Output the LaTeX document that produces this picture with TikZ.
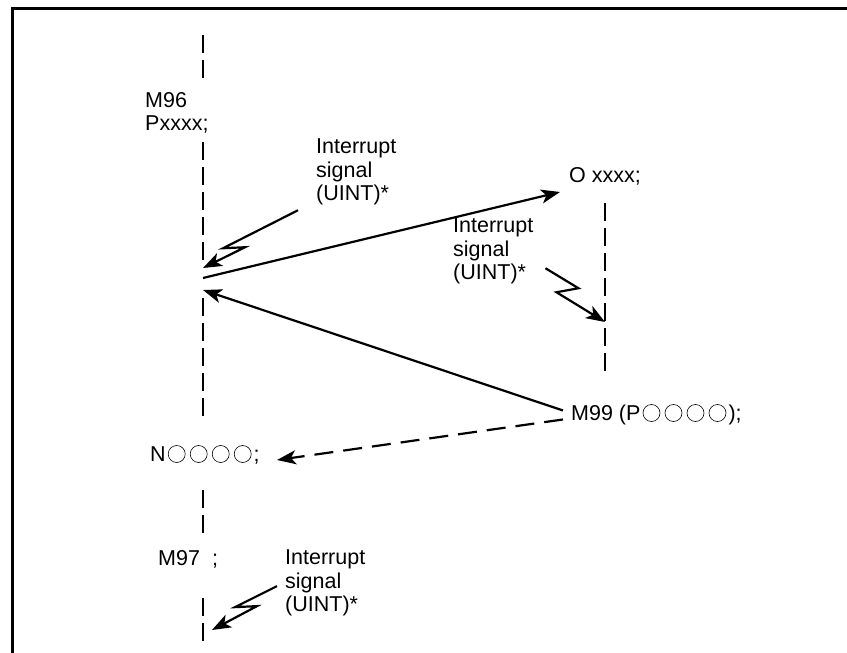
\documentclass[tikz,border=0pt]{standalone}
\usepackage{fontspec}
\setmainfont{Liberation Sans}
\usetikzlibrary{arrows.meta}
\newcommand\oc{\tikz[baseline=0pt,x=1pt,y=1pt]{\path (0,-1) rectangle (22,15); \draw[line width=0.6pt] (11,7.3) circle[radius=8.5];}}
\begin{document}
\begin{tikzpicture}[x=1pt,y=-1pt,
  lbl/.style={anchor=north west,inner sep=0pt,align=left,font=\fontsize{21.5}{23.3}\selectfont},
  dline/.style={line width=2.2pt,dash pattern=on 18pt off 7pt},
  conn/.style={line width=2.2pt,-{Stealth[length=19pt,width=14pt,inset=5pt]}},
  dconn/.style={conn,dash pattern=on 19pt off 10pt}]
\useasboundingbox (0,0) rectangle (847,653);
\draw[line width=2.4pt] (12.5,653) -- (12.5,8.5) -- (847,8.5);

% text nodes
\node[lbl] (m96) at (145,92) {M96\\Pxxxx;};
\node[lbl] (int1) at (316,139) {Interrupt\\signal\\(UINT)*};
\node[lbl] (oxx) at (569,167) {O xxxx;};
\node[lbl] (int2) at (453,218) {Interrupt\\signal\\(UINT)*};
\node[lbl] (m99) at (571,404) {M99 (P\oc\oc\oc\oc);};
\node[lbl] (nn) at (150,445) {N\oc\oc\oc\oc;};
\node[lbl] (m97) at (158,550) {M97\hspace{12pt};};
\node[lbl] (int3) at (285,550) {Interrupt\\signal\\(UINT)*};

% left program line
\coordinate (l1a) at (203,35);  \coordinate (l1b) at (203,78);
\coordinate (l2a) at (203,142); \coordinate (l2b) at (203,262);
\coordinate (l3a) at (203,298); \coordinate (l3b) at (203,420);
\coordinate (l4a) at (203,490); \coordinate (l4b) at (203,534);
\coordinate (l5a) at (203,598); \coordinate (l5b) at (203,644);
\draw[dline] (l1a) -- (l1b);
\draw[dline] (l2a) -- (l2b);
\draw[dline] (l3a) -- (l3b);
\draw[dline] (l4a) -- (l4b);
\draw[dline] (l5a) -- (l5b);

% right program line
\coordinate (r1a) at (605,203); \coordinate (r1b) at (605,375);
\draw[dline] (r1a) -- (r1b);

% interrupt points
\coordinate (i1) at (203,268);
\coordinate (s1) at (203,278);
\coordinate (ret) at (203,290);
\coordinate (i2) at (605,322);
\coordinate (i3) at (212,630);
\coordinate (otip) at (560,192);
\coordinate (ntip) at (277,460);

% lightning arrows
\draw[conn] ([shift={(-18,5)}]int1.south west) -- ++(-75,38) -- ++(22,-1) -- (i1);
\draw[conn] ([shift={(12,-16)}]int2.south east) -- ++(33,20) -- ++(-22,4) -- (i2);
\draw[conn] ([shift={(-8,3)}]int3.west) -- ++(-42,21) -- ++(22,-1) -- (i3);

% jumps
\draw[conn] ([shift={(-8,-4)}]m99.west) -- (ret);
\draw[conn] (s1) -- (otip);
\draw[dconn] ([shift={(-8,5)}]m99.west) -- (ntip);
\end{tikzpicture}
\end{document}
